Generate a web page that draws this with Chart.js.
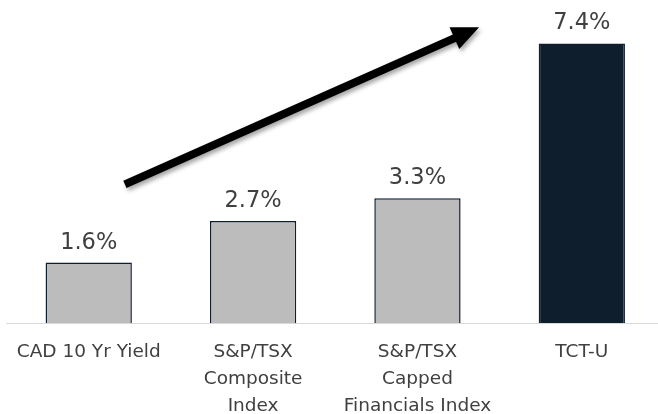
<!DOCTYPE html>
<html>
<head>
<meta charset="utf-8">
<script src="https://cdn.jsdelivr.net/npm/chart.js@4.4.0/dist/chart.umd.min.js"></script>
<style>
  html, body { margin: 0; padding: 0; background: #fff; overflow: hidden; }
  #wrap { width: 664px; height: 414px; }
</style>
</head>
<body>
<div id="wrap"><canvas id="chart"></canvas></div>
<script>
// --- Data ---
const categories = [
    "CAD 10 Yr Yield",
    ["S&P/TSX", "Composite", "Index"],
    ["S&P/TSX", "Capped", "Financials Index"],
    "TCT-U"
];
const yields = [1.6, 2.7, 3.3, 7.4];
const valueLabels = ["1.6%", "2.7%", "3.3%", "7.4%"];

// arrow in data space: [category position, value]
const arrowFrom = [0.22, 3.67];
const arrowTo = [2.375, 7.83];

const barFill = ["#bcbcbc", "#bcbcbc", "#bcbcbc", "#0f1e2d"];
const barEdge = ["#0f1e2d", "#0f1e2d", "#0f1e2d", "#0f1e2d"];

// --- Plugin: value labels above bars ---
const valueLabelPlugin = {
    id: "valueLabels",
    afterDatasetsDraw(chart) {
        const ctx = chart.ctx;
        const meta = chart.getDatasetMeta(0);
        ctx.save();
        ctx.font = "22.5px 'DejaVu Sans'";
        ctx.fillStyle = "#404040";
        ctx.textAlign = "center";
        ctx.textBaseline = "alphabetic";
        meta.data.forEach((bar, i) => {
            ctx.fillText(valueLabels[i], bar.x, bar.y - 14);
        });
        ctx.restore();
    }
};

// --- Plugin: trend arrow ---
const arrowPlugin = {
    id: "trendArrow",
    afterDatasetsDraw(chart) {
        const xs = chart.scales.x, ys = chart.scales.y;
        const x1 = xs.getPixelForValue(arrowFrom[0]), y1 = ys.getPixelForValue(arrowFrom[1]);
        const x2 = xs.getPixelForValue(arrowTo[0]), y2 = ys.getPixelForValue(arrowTo[1]);
        const ang = Math.atan2(y2 - y1, x2 - x1);
        const headLen = 27, headW = 12;
        const bx = x2 - headLen * Math.cos(ang), by = y2 - headLen * Math.sin(ang);
        const ctx = chart.ctx;
        ctx.save();
        ctx.shadowColor = "rgba(0,0,0,0.35)";
        ctx.shadowBlur = 4;
        ctx.shadowOffsetX = 2;
        ctx.shadowOffsetY = 3;
        ctx.fillStyle = "#000";
        ctx.strokeStyle = "#000";
        ctx.lineWidth = 8;
        ctx.beginPath();
        ctx.moveTo(x1, y1);
        ctx.lineTo(bx + 2 * Math.cos(ang), by + 2 * Math.sin(ang));
        ctx.stroke();
        ctx.beginPath();
        ctx.moveTo(x2, y2);
        ctx.lineTo(bx + headW * Math.sin(ang), by - headW * Math.cos(ang));
        ctx.lineTo(bx - headW * Math.sin(ang), by + headW * Math.cos(ang));
        ctx.closePath();
        ctx.fill();
        ctx.restore();
    }
};

// --- Chart ---
const ctx = document.getElementById("chart").getContext("2d");
const chart = new Chart(ctx, {
    type: "bar",
    data: {
        labels: categories,
        datasets: [{
            data: yields,
            backgroundColor: barFill,
            borderColor: barEdge,
            borderWidth: 1.5,
            barPercentage: 0.525,
            categoryPercentage: 1
        }]
    },
    options: {
        responsive: true,
        maintainAspectRatio: false,
        animation: false,
        layout: { padding: { top: 0, left: 6, right: 0, bottom: 0 } },
        plugins: {
            legend: { display: false },
            tooltip: { enabled: false }
        },
        scales: {
            x: {
                grid: { display: false, drawTicks: false },
                border: { display: true, color: "#d9d9d9", width: 1 },
                ticks: {
                    color: "#404040",
                    font: { family: "'DejaVu Sans'", size: 18.5, lineHeight: 1.45 },
                    padding: 16,
                    maxRotation: 0,
                    autoSkip: false
                },
                afterFit(scale) { scale.height = 91; }
            },
            y: {
                display: false,
                min: 0,
                max: 8.55
            }
        }
    },
    plugins: [valueLabelPlugin, arrowPlugin]
});
</script>
</body>
</html>
